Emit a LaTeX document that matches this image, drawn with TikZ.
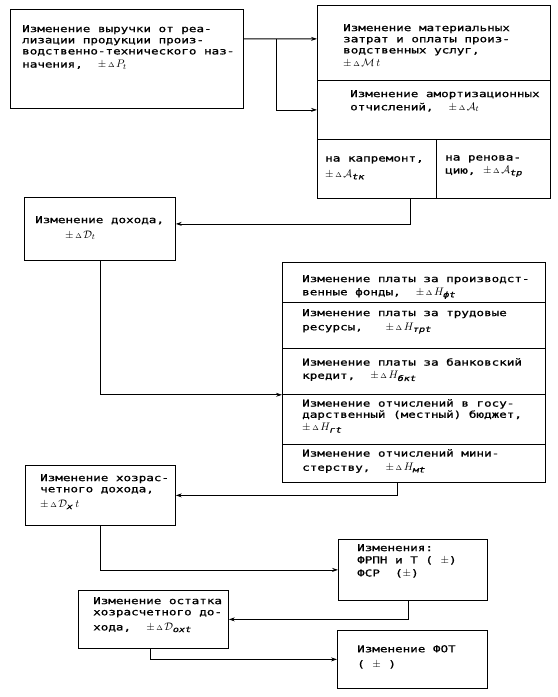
\documentclass[tikz,border=0pt]{standalone}
\usepackage{amsmath}
\usepackage{fontspec}
\setmainfont[FakeStretch=1.33,FakeBold=1]{DejaVu Sans Mono}
\usetikzlibrary{arrows.meta}

\newcommand{\dpm}{{\fontsize{10.5}{10}\selectfont$\pm$}\,{\fontsize{7}{7}\selectfont$\Delta$}\,}
\newcommand{\mv}[1]{{\fontsize{11}{10}\selectfont$#1$}}
\newcommand{\ix}[1]{\text{\itshape #1}}

\tikzset{
  >={Stealth[length=6bp,width=4bp]},
  box/.style={draw, thick, anchor=north west, inner sep=0pt},
  txt/.style={anchor=north west, inner sep=0pt, align=left,
    font=\fontsize{9.5}{11.2}\selectfont},
}

\begin{document}
\begin{tikzpicture}[x=1bp,y=-1bp]
\path[use as bounding box] (0,0) rectangle (558,697);

% boxes
\node[box,minimum width=233bp,minimum height=99bp] (rev) at (10,9) {};
\node[box,minimum width=233bp,minimum height=75bp] (mat) at (317,5) {};
\node[box,minimum width=233bp,minimum height=59bp] (amo) at (317,80) {};
\node[box,minimum width=119bp,minimum height=59bp] (kap) at (317,139) {};
\node[box,minimum width=114bp,minimum height=59bp] (ren) at (436,139) {};
\node[box,minimum width=151bp,minimum height=63bp] (dohod) at (24,197) {};
\node[box,minimum width=263bp,minimum height=40bp] (h1) at (282,262) {};
\node[box,minimum width=263bp,minimum height=46bp] (h2) at (282,302) {};
\node[box,minimum width=263bp,minimum height=46bp] (h3) at (282,348) {};
\node[box,minimum width=263bp,minimum height=50bp] (h4) at (282,394) {};
\node[box,minimum width=263bp,minimum height=38bp] (h5) at (282,444) {};
\node[box,minimum width=150bp,minimum height=60bp] (hoz) at (25,465) {};
\node[box,minimum width=149bp,minimum height=61bp] (frpn) at (338,539) {};
\node[box,minimum width=150bp,minimum height=58bp] (ost) at (78,590) {};
\node[box,minimum width=150bp,minimum height=58bp] (fot) at (337,630) {};

% texts
\node[txt] (revt) at (22,25) {Изменение выручки от реа-\\лизации продукции произ-\\водственно-технического наз-\\[2bp]начения, \ \dpm\mv{P_t}};
\node[txt] (matt) at (343,24) {Изменение материальных\\затрат и оплаты произ-\\водственных услуг,\\[2bp]\dpm\mv{\mathcal{M}\,t}};
\node[txt] (amot) at (350,90) {Изменение амортизационных\\[2bp]отчислений, \ \dpm\mv{\mathcal{A}_t}};
\node[txt] (kapt) at (325,156) {на капремонт,\\[5bp]\dpm\mv{\mathcal{A}_{\ix{tк}}}};
\node[txt] (rent) at (445,155) {на ренова-\\[2bp]цию, \dpm\mv{\mathcal{A}_{\ix{tр}}}};
\node[txt] (dohodt) at (35,216) {Изменение дохода,\\[4bp]\hspace{30bp}\dpm\mv{\mathcal{D}_t}};
\node[txt] (h1t) at (302,275) {Изменение платы за производст-\\[2bp]венные фонды, \ \dpm\mv{H_{\ix{фt}}}};
\node[txt] (h2t) at (302,309) {Изменение платы за трудовые\\[3bp]ресурсы, \ \ \dpm\mv{H_{\ix{трt}}}};
\node[txt] (h3t) at (302,358) {Изменение платы за банковский\\[2bp]кредит, \ \dpm\mv{H_{\ix{бкt}}}};
\node[txt] (h4t) at (302,399) {Изменение отчислений в госу-\\дарственный (местный) бюджет,\\[2bp]\dpm\mv{H_{\ix{гt}}}};
\node[txt] (h5t) at (302,449) {Изменение отчислений мини-\\[3bp]стерству, \ \dpm\mv{H_{\ix{мt}}}};
\node[txt] (hozt) at (40,474) {Изменение хозрас-\\четного дохода,\\[4bp]\dpm\mv{\mathcal{D}_{\ix{х}}\,t}};
\node[txt] (frpnt) at (357,544) {Изменения:\\[1bp]ФРПН и Т ( \mv{\pm})\\[2bp]ФСР \ (\mv{\pm})};
\node[txt] (ostt) at (93,597) {Изменение остатка\\хозрасчетного до-\\[4bp]хода, \ \dpm\mv{\mathcal{D}_{\ix{охt}}}};
\node[txt] (fott) at (357,645) {Изменение ФОТ\\[4bp]( \mv{\pm} )};

% connectors
\coordinate (fork) at ([xshift=33bp,yshift=20bp]rev.east);
\draw[thick,->] ([yshift=20bp]rev.east) -- ([yshift=4bp]mat.west);
\draw[thick,->] (fork) |- (amo.west);
\draw[thick,->] ([xshift=-26bp]kap.south east) |- ([yshift=5bp]dohod.east);
\draw[thick,->] (dohod.south) |- (h3.south west);
\draw[thick,->] ([xshift=115bp]h5.south west) |- (hoz.east);
\draw[thick,->] (hoz.south) |- (frpn.west);
\draw[thick,->] ([xshift=-5bp]frpn.south) |- (ost.east);
\draw[thick,->] ([xshift=-3bp]ost.south) |- (fot.west);
\end{tikzpicture}
\end{document}
